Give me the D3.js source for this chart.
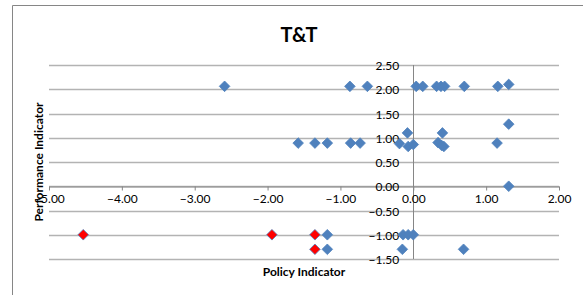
<!DOCTYPE html>
<html>
<head>
<meta charset="utf-8">
<script src="https://cdn.jsdelivr.net/npm/d3@7"></script>
<style>
  body { margin: 0; background: #fff; }
  text { font-family: Lato, "Open Sans", sans-serif; }
</style>
</head>
<body>
<div id="chart"></div>
<script>
// T&T scatter: policy vs performance indicator

// blue series (policy, performance)
const blueX = [-2.59, -0.87, -0.63, 0.04, 0.13, 0.32, 0.38, 0.43, 0.70, 1.16, 1.31,
  -1.58, -1.35, -1.18, -0.86, -0.73, -0.19, -0.08, -0.07, 0.0, 0.34, 0.40, 0.39, 0.42, 1.15, 1.31,
  1.31,
  -1.18, -0.14, -0.07, 0.0,
  -1.18, -0.15, 0.69];
const blueY = [2.06, 2.06, 2.06, 2.06, 2.06, 2.06, 2.06, 2.06, 2.06, 2.06, 2.10,
  0.89, 0.89, 0.89, 0.89, 0.89, 0.88, 1.10, 0.82, 0.86, 0.90, 1.10, 0.84, 0.82, 0.89, 1.28,
  0.0,
  -1.0, -1.0, -1.0, -1.0,
  -1.30, -1.30, -1.30];

// red series
const redX = [-4.53, -1.94, -1.35, -1.35];
const redY = [-1.0, -1.0, -1.0, -1.30];

const xTicks = [-5, -4, -3, -2, -1, 0, 1, 2];
const yTicks = [-1.5, -1, -0.5, 0, 0.5, 1, 1.5, 2, 2.5];

const W = 583, H = 295;
const plot = {left: 49, right: 559, top: 65, bottom: 259};

const svg = d3.select("#chart").append("svg")
  .attr("width", W)
  .attr("height", H);

// chart area border (top and left only visible)
svg.append("path")
  .attr("d", `M12.5,${H} L12.5,5.5 L${W},5.5`)
  .attr("fill", "none")
  .attr("stroke", "#868686")
  .attr("stroke-width", 1);

const x = d3.scaleLinear().domain([-5, 2]).range([plot.left, plot.right]);
const y = d3.scaleLinear().domain([-1.5, 2.5]).range([plot.bottom, plot.top]);

// horizontal gridlines
svg.append("g")
  .selectAll("line")
  .data(yTicks)
  .enter()
  .append("line")
  .attr("x1", plot.left)
  .attr("x2", plot.right)
  .attr("y1", d => Math.round(y(d)) + 0.5)
  .attr("y2", d => Math.round(y(d)) + 0.5)
  .attr("stroke", "#b3b3b3")
  .attr("stroke-width", 1.5);

// vertical axis at x = 0
svg.append("line")
  .attr("x1", Math.round(x(0)) + 0.5)
  .attr("x2", Math.round(x(0)) + 0.5)
  .attr("y1", plot.top)
  .attr("y2", plot.bottom)
  .attr("stroke", "#868686");

// horizontal axis at y = 0
const xAxis = svg.append("g")
  .attr("transform", `translate(0,${Math.round(y(0)) + 0.5})`)
  .call(d3.axisBottom(x).tickValues(xTicks).tickSize(4).tickSizeOuter(0)
    .tickFormat(d3.format(".2f")));
xAxis.select(".domain").attr("stroke", "#868686");
xAxis.selectAll(".tick line").attr("stroke", "#868686");
xAxis.selectAll(".tick text")
  .attr("y", 8)
  .attr("dy", "0.71em")
  .attr("font-size", 12)
  .attr("fill", "#000")
  .style("font-family", "Lato, sans-serif");

// y tick labels next to the vertical axis
svg.append("g")
  .selectAll("text")
  .data(yTicks)
  .enter()
  .append("text")
  .attr("x", x(0) - 14)
  .attr("y", d => y(d) + 1)
  .attr("dy", "0.35em")
  .attr("text-anchor", "end")
  .attr("font-size", 12)
  .attr("fill", "#000")
  .text(d => d3.format(".2f")(d));

// diamonds
const diamond = d3.symbol().type(d3.symbolDiamond2).size(72)();

svg.append("g")
  .selectAll("path")
  .data(blueX.map((v, i) => [v, blueY[i]]))
  .enter()
  .append("path")
  .attr("d", diamond)
  .attr("transform", d => `translate(${x(d[0])},${y(d[1])})`)
  .attr("fill", "#4f81bd")
  .attr("stroke", "#4f81bd")
  .attr("stroke-width", 0.8);

svg.append("g")
  .selectAll("path")
  .data(redX.map((v, i) => [v, redY[i]]))
  .enter()
  .append("path")
  .attr("d", diamond)
  .attr("transform", d => `translate(${x(d[0])},${y(d[1])})`)
  .attr("fill", "#ff0000")
  .attr("stroke", "#4f81bd")
  .attr("stroke-width", 0.8);

// title
svg.append("text")
  .attr("x", 299)
  .attr("y", 42)
  .attr("text-anchor", "middle")
  .attr("font-size", 20)
  .attr("font-weight", "bold")
  .text("T&T");

// axis titles
svg.append("text")
  .attr("x", 304)
  .attr("y", 276)
  .attr("text-anchor", "middle")
  .attr("font-size", 12)
  .attr("font-weight", "bold")
  .text("Policy Indicator");

svg.append("text")
  .attr("transform", `translate(43,${(plot.top + plot.bottom) / 2}) rotate(-90)`)
  .attr("text-anchor", "middle")
  .attr("font-size", 12)
  .attr("font-weight", "bold")
  .text("Performance Indicator");
</script>
</body>
</html>
